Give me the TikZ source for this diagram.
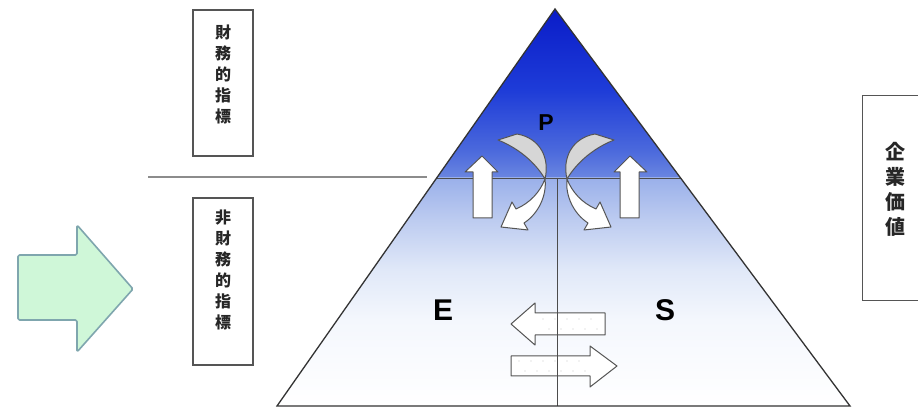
\documentclass[tikz,border=0pt]{standalone}
\usepackage{fontspec}
\newfontfamily\cjk{Noto Sans CJK JP}
\newfontfamily\lat{Liberation Sans}
\definecolor{greenFill}{HTML}{CFF7D8}
\definecolor{greenLine}{HTML}{7FA6AE}
\definecolor{crescentFill}{HTML}{D6D6D6}
\definecolor{outlineGray}{HTML}{555555}
\pgfdeclareverticalshading{upperblue}{100bp}{%
  color(0bp)=(rgb,255:red,106;green,134;blue,224);
  color(25bp)=(rgb,255:red,106;green,134;blue,224);
  color(33.5bp)=(rgb,255:red,74;green,104;blue,220);
  color(51bp)=(rgb,255:red,30;green,60;blue,216);
  color(75bp)=(rgb,255:red,10;green,28;blue,200);
  color(100bp)=(rgb,255:red,10;green,28;blue,200)}
\pgfdeclareverticalshading{lowerblue}{100bp}{%
  color(0bp)=(rgb,255:red,255;green,255;blue,255);
  color(25bp)=(rgb,255:red,255;green,255;blue,255);
  color(44bp)=(rgb,255:red,244;green,247;blue,253);
  color(55bp)=(rgb,255:red,224;green,232;blue,248);
  color(66bp)=(rgb,255:red,188;green,203;blue,240);
  color(75bp)=(rgb,255:red,154;green,176;blue,234);
  color(100bp)=(rgb,255:red,154;green,176;blue,234)}
\tikzset{
  box/.style={draw=outlineGray, line width=1.4pt, fill=white, inner sep=0pt},
  cjkv/.style={align=center, inner sep=0pt, text=black!85},
  letter/.style={font=\lat\bfseries, text=black, inner sep=0pt},
  tri/.style={draw=black!80, line width=1.3pt},
  divline/.style={draw=black!70, line width=0.9pt},
  ruleline/.style={draw=black!45, line width=1.3pt},
  warrow/.style={draw=outlineGray, line width=1pt, fill=white, line join=round},
  garrow/.style={draw=outlineGray, line width=1pt, fill=crescentFill, line join=round},
  bigarrow/.style={draw=greenLine, line width=1.6pt, fill=greenFill, line join=round, rounded corners=1.5pt},
  dotmark/.style={fill=black!22}
}
\begin{document}
\begin{tikzpicture}[x=1pt,y=-1pt]
\clip (0,0) rectangle (918,411);
\fill[white] (0,0) rectangle (918,411);

% triangle geometry
\coordinate (A) at (555,9);
\coordinate (L) at (277,406);
\coordinate (R) at (850,406);
\coordinate (ML) at (436.7,178);
\coordinate (MR) at (680.6,178);
\coordinate (MC) at (557,178);
\coordinate (BC) at (557,406);
\coordinate (RS) at (148,177);
\coordinate (RE) at (427,177);

\begin{scope}
  \clip (A) -- (L) -- (R) -- cycle;
  \shade[shading=upperblue] (260,9) rectangle (870,178);
  \shade[shading=lowerblue] (260,178) rectangle (870,406);
\end{scope}

% left ruling line
\draw[ruleline] (RS) -- (RE);

% boxes
\node[box, minimum width=60pt, minimum height=146pt] (b1) at (223,83) {};
\node[box, minimum width=60pt, minimum height=167pt] (b2) at (223,281.5) {};
\node[box, minimum width=70pt, minimum height=205pt, anchor=north west] (b3) at (862,95) {};
\node[cjkv, font=\cjk\bfseries\fontsize{16}{21}\selectfont] (t1) at (223,74) {財\\務\\的\\指\\標};
\node[cjkv, font=\cjk\bfseries\fontsize{16}{21}\selectfont] (t2) at (223,270) {非\\財\\務\\的\\指\\標};
\node[cjkv, font=\cjk\bfseries\fontsize{20}{25}\selectfont] (t3) at (895,189) {企\\業\\価\\値};

% green arrow
\draw[bigarrow] (18,255) -- (77,255) -- (77,225) -- (133,289) -- (77,352) -- (77,320) -- (18,320) -- cycle;

% horizontal white arrows
\draw[warrow] (605,313) -- (535,313) -- (535,303) -- (511,324) -- (535,345) -- (535,335) -- (605,335) -- cycle;
\draw[warrow] (511,356) -- (590,356) -- (590,346) -- (617,366) -- (590,387) -- (590,376) -- (511,376) -- cycle;
\foreach \xx in {543,555,567,579,591}{
  \fill[dotmark] (\xx,319) circle (0.7);
  \fill[dotmark] (\xx+6,329) circle (0.7);
}
\foreach \xx in {519,531,543,555,567,579}{
  \fill[dotmark] (\xx,361) circle (0.7);
  \fill[dotmark] (\xx+6,371) circle (0.7);
}

% dividing lines
\draw[divline] (ML) -- (MR);
\draw[divline] (MC) -- (BC);

% left group of arrows and its mirror
\foreach \sh/\sc in {0/1, 1112/-1}{
\begin{scope}[xshift=\sh pt, xscale=\sc]
  \draw[warrow] (473,218) -- (473,172) -- (465,172) -- (482,156) -- (498,172) -- (492,172) -- (492,218) -- cycle;
  \draw[garrow] (498,140) .. controls (518,148) and (535,162) .. (545,179)
     .. controls (550,158) and (540,138) .. (517,134) -- cycle;
  \draw[warrow] (545,179) .. controls (540,192) and (530,203) .. (516,209)
     -- (512,202) -- (501,227) -- (528,230) -- (524,223)
     .. controls (538,214) and (547,196) .. cycle;
\end{scope}
}

% triangle outline
\draw[tri] (A) -- (L) -- (R) -- cycle;

% letters
\node[letter, font=\lat\bfseries\fontsize{23}{25}\selectfont] (P) at (546,123) {P};
\node[letter, font=\lat\bfseries\fontsize{30}{32}\selectfont] (E) at (443,310) {E};
\node[letter, font=\lat\bfseries\fontsize{30}{32}\selectfont] (S) at (665,310) {S};
\end{tikzpicture}
\end{document}
